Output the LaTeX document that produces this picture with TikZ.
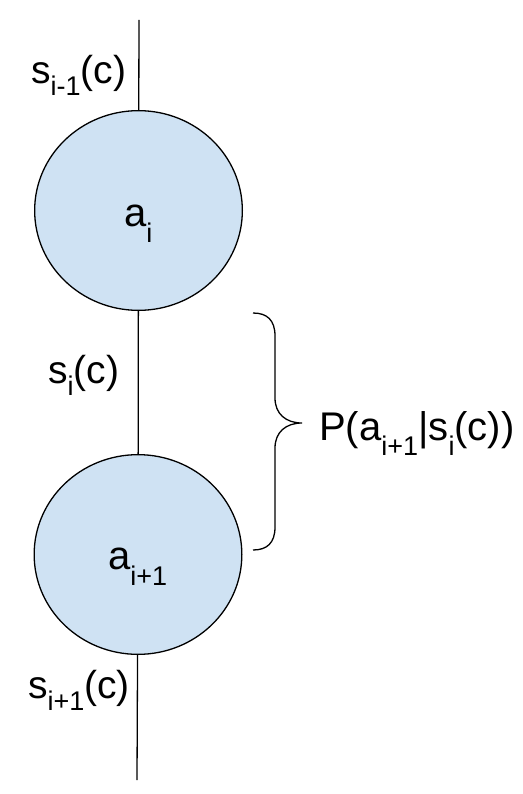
\documentclass[tikz,border=0pt]{standalone}
\usepackage{fontspec}
\setmainfont{Liberation Sans}
\usetikzlibrary{shapes.geometric}
\definecolor{nodefill}{HTML}{CFE2F3}
\newcommand\lo[2][12]{\raisebox{-#1pt}{\fontsize{27pt}{27pt}\selectfont #2}}
\tikzset{
  statenode/.style={ellipse, draw=black, fill=nodefill, line width=1.3pt,
    minimum width=207.7pt, minimum height=199.7pt, inner sep=0pt},
  lbl/.style={anchor=base west, inner sep=0pt, font=\fontsize{39pt}{39pt}\selectfont},
  plbl/.style={anchor=base west, inner sep=0pt, font=\fontsize{40pt}{40pt}\selectfont},
  inlbl/.style={anchor=base west, inner sep=0pt, font=\fontsize{40pt}{40pt}\selectfont},
  conn/.style={line width=1.3pt, draw=black},
}
\begin{document}
\begin{tikzpicture}[x=1pt,y=-1pt]
\useasboundingbox (0,0) rectangle (522,794);
\coordinate (top) at (139,20);
\coordinate (bot) at (137,780);
\node[statenode] (c1) at (138.5,210.5) {};
\node[statenode] (c2) at (138,554.5) {};
\draw[conn] (top) -- (c1);
\draw[conn] (c1) -- (c2);
\draw[conn] (c2) -- (bot);
\node[inlbl] (ai) at (124,226) {a\lo[16]{i}};
\node[inlbl] (aip) at (108,569) {a\lo[16]{i+1}};
\node[lbl] (sim) at (31,84) {s\lo{i-1}(c)};
\node[lbl] (si) at (48,383) {s\lo{i}(c)};
\node[lbl] (sip) at (28,698) {s\lo{i+1}(c)};
\node[plbl] (pl) at (319,440) {P(a\lo[15]{i+1}|s\lo[15]{i}(c))};
\draw[line width=1.3pt] (253,313) .. controls (267,313) and (275,320) .. (275,336)
  -- (275,398) .. controls (275,414) and (286,423) .. (302,423)
  .. controls (286,423) and (275,432) .. (275,448)
  -- (275,527) .. controls (275,543) and (267,550) .. (253,550);
\end{tikzpicture}
\end{document}
